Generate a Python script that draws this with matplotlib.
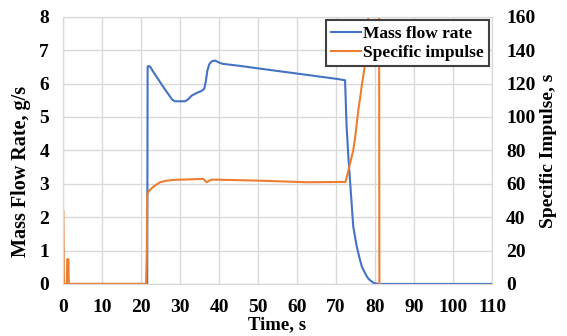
import matplotlib
matplotlib.use("Agg")
import matplotlib.pyplot as plt

# mass flow rate, g/s (left axis)
t_mdot = [1.6, 21.6, 21.7, 22.0, 22.5, 23.0, 26.0, 28.0, 28.7, 31.3, 32.0,
          33.0, 34.3, 35.5, 36.2, 36.6, 37.0, 37.5, 38.2, 39.0, 40.0, 41.0,
          45.4, 49.7, 60.0, 70.2, 72.3, 72.7, 73.2, 73.8, 74.4, 74.8, 75.3,
          76.0, 76.6, 77.0, 77.9, 78.5, 79.6, 80.8, 110.0]
mdot = [0.0, 0.0, 6.51, 6.53, 6.48, 6.38, 5.85, 5.52, 5.47, 5.47, 5.52,
        5.64, 5.72, 5.78, 5.84, 6.05, 6.38, 6.58, 6.67, 6.69, 6.63, 6.59,
        6.53, 6.46, 6.30, 6.14, 6.10, 4.71, 3.71, 2.72, 1.72, 1.45, 1.12,
        0.78, 0.52, 0.42, 0.22, 0.13, 0.03, 0.0, 0.0]

# specific impulse, s (right axis)
t_isp = [0.0, 0.1, 0.15, 0.25, 0.3, 1.0, 1.1, 1.4, 1.5, 1.6, 21.3, 21.5,
         21.6, 22.0, 23.2, 24.9, 26.5, 28.3, 36.0, 36.8, 38.1, 49.7, 62.5,
         71.9, 72.4, 73.1, 73.8, 74.4, 74.9, 75.3, 75.7, 76.2, 76.6, 77.0,
         77.4, 77.9, 78.3, 79.0, 81.0, 81.1]
isp = [44.0, 44.0, 28.0, 0.0, 0.0, 0.0, 14.8, 14.8, 0.0, 0.0, 0.0, 20.0,
       53.7, 55.5, 58.3, 60.9, 61.8, 62.3, 62.9, 60.9, 62.5, 61.9, 60.9,
       61.1, 61.0, 67.3, 74.3, 80.0, 88.0, 96.0, 104.0, 112.0, 119.0, 125.0,
       131.0, 145.0, 160.0, 200.0, 250.0, 0.0]

plt.rcParams['font.family'] = ['Liberation Serif', 'DejaVu Serif']
plt.rcParams['font.weight'] = 'bold'

fig = plt.figure(figsize=(5.67, 3.36), dpi=100)
ax = fig.add_axes([0.111, 0.155, 0.757, 0.795])
ax2 = ax.twinx()

blue = "#4472C4"
orange = "#ED7D31"

l1, = ax.plot(t_mdot, mdot, color=blue, lw=1.5, label="Mass flow rate")
l2, = ax2.plot(t_isp, isp, color=orange, lw=1.5, label="Specific impulse")

ax.set_xlim(0, 110)
ax.set_ylim(0, 8)
ax2.set_ylim(0, 160)
ax.set_xticks(range(0, 111, 10))
ax.set_yticks(range(0, 9))
ax2.set_yticks(range(0, 161, 20))

ax.grid(True, color="#d9d9d9", lw=1)
ax.set_axisbelow(True)
for a in (ax, ax2):
    for s in a.spines.values():
        s.set_color("#d9d9d9")
    a.tick_params(length=0, pad=10, labelsize=14)
ax.tick_params(axis="x", pad=11)

ax.set_xlabel("Time, s", fontweight="bold", fontsize=13.5, labelpad=0)
ax.set_ylabel("Mass Flow Rate, g/s", fontweight="bold", fontsize=14.5)
ax.yaxis.set_label_coords(-0.075, 0.42)
ax2.set_ylabel("Specific Impulse, s", fontweight="bold", fontsize=14, labelpad=3)

leg = ax2.legend(handles=[l1, l2], loc="upper right", fancybox=False,
                 framealpha=1, edgecolor="#404040", borderaxespad=0.2,
                 handlelength=1.7, handletextpad=0.1, borderpad=0.3,
                 labelspacing=0.2, prop={"weight": "bold", "size": 12.5})
leg.get_frame().set_linewidth(1.5)

fig.savefig("out.png", dpi=100)
